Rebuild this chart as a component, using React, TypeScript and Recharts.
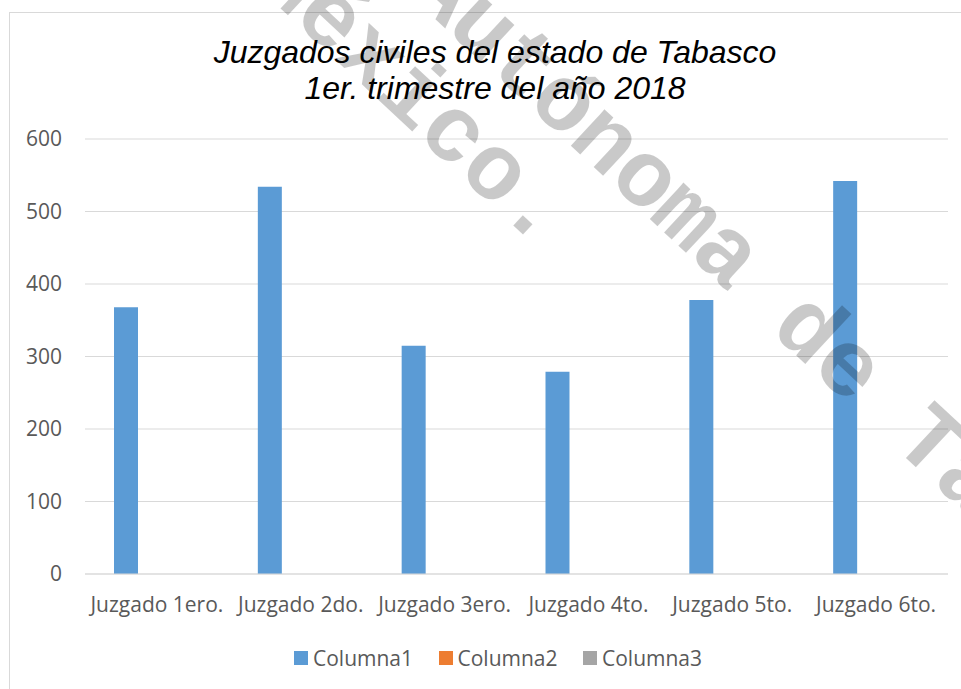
import React from 'react';
import { BarChart, Bar, XAxis, YAxis, CartesianGrid, Legend } from 'recharts';

const categories = ['Juzgado 1ero.', 'Juzgado 2do.', 'Juzgado 3ero.', 'Juzgado 4to.', 'Juzgado 5to.', 'Juzgado 6to.'];
const columna1 = [368, 534, 315, 279, 378, 542];
const columna2: (number | null)[] = [null, null, null, null, null, null];
const columna3: (number | null)[] = [null, null, null, null, null, null];
const seriesNames = ['Columna1', 'Columna2', 'Columna3'];
const seriesColors = ['#5B9BD5', '#ED7D31', '#A5A5A5'];
const yTicks = [0, 100, 200, 300, 400, 500, 600];
const titleLines = ['Juzgados civiles del estado de Tabasco', '1er. trimestre del año 2018'];
const watermarkLines = ['Autónoma de Tabasco.', 'México.'];

const data = categories.map((c, i) => ({
  name: c,
  c1: columna1[i],
  c2: columna2[i],
  c3: columna3[i],
}));

const AXIS_FONT = "'Open Sans', sans-serif";
const TEXT_COLOR = '#595959';

const renderLegend = (props: any) => {
  const payload = props.payload || [];
  return (
    <div style={{ display: 'flex', alignItems: 'center', height: 30, paddingLeft: 294, fontFamily: AXIS_FONT, fontSize: 21, color: TEXT_COLOR }}>
      {payload.map((e: any, i: number) => (
        <div key={i} style={{ width: 144.5, display: 'flex', alignItems: 'center', flex: 'none' }}>
          <span style={{ display: 'inline-block', width: 14, height: 14, background: e.color, marginRight: 5 }} />
          <span style={{ lineHeight: '30px', whiteSpace: 'nowrap' }}>{e.value}</span>
        </div>
      ))}
    </div>
  );
};

export default function App() {
  const angle = 43;
  return (
    <div style={{ position: 'absolute', left: 0, top: 0, width: 961, height: 689, overflow: 'hidden', background: '#fff' }}>
      <div style={{ position: 'absolute', left: 9, top: 12, width: 1000, height: 800, border: '1px solid #d9d9d9', boxSizing: 'border-box' }} />
      <div style={{ position: 'absolute', left: 0, top: 0 }}>
        <BarChart
          width={961}
          height={689}
          data={data}
          margin={{ top: 139, right: 13, bottom: 16, left: 0 }}
          barGap={7}
          barSize={24}
        >
          <CartesianGrid vertical={false} stroke="#d9d9d9" strokeWidth={1.2} />
          <XAxis
            dataKey="name"
            height={69}
            axisLine={{ stroke: '#d9d9d9', strokeWidth: 1.2 }}
            tickLine={false}
            tickSize={0}
            tickMargin={23}
            interval={0}
            tick={{ fill: TEXT_COLOR, fontSize: 21, fontFamily: AXIS_FONT }}
          />
          <YAxis
            width={85}
            domain={[0, 600]}
            ticks={yTicks}
            axisLine={false}
            tickLine={false}
            tickSize={0}
            tickMargin={23}
            tick={{ fill: TEXT_COLOR, fontSize: 21, fontFamily: AXIS_FONT }}
          />
          <Legend verticalAlign="bottom" height={30} content={renderLegend} />
          <Bar dataKey="c1" name={seriesNames[0]} fill={seriesColors[0]} isAnimationActive={false} />
          <Bar dataKey="c2" name={seriesNames[1]} fill={seriesColors[1]} isAnimationActive={false} />
          <Bar dataKey="c3" name={seriesNames[2]} fill={seriesColors[2]} isAnimationActive={false} />
        </BarChart>
      </div>
      <svg width={961} height={689} style={{ position: 'absolute', left: 0, top: 0, pointerEvents: 'none' }}>
        <text x={495} y={63} textAnchor="middle" fontFamily="'Liberation Sans', Arial, sans-serif" fontStyle="italic" fontSize={32} fill="#000">
          {titleLines[0]}
        </text>
        <text x={495} y={99} textAnchor="middle" fontFamily="'Liberation Sans', Arial, sans-serif" fontStyle="italic" fontSize={32} fill="#000">
          {titleLines[1]}
        </text>
        <g fontFamily="'Liberation Mono', 'Courier New', monospace" fontWeight="bold" fontSize={94} fill="#000" fillOpacity={0.21}>
          <text transform={`translate(404,-10) rotate(${angle})`} letterSpacing={-1}>{watermarkLines[0]}</text>
          <text transform={`translate(250,-20) rotate(${angle})`}>{watermarkLines[1]}</text>
        </g>
      </svg>
    </div>
  );
}
